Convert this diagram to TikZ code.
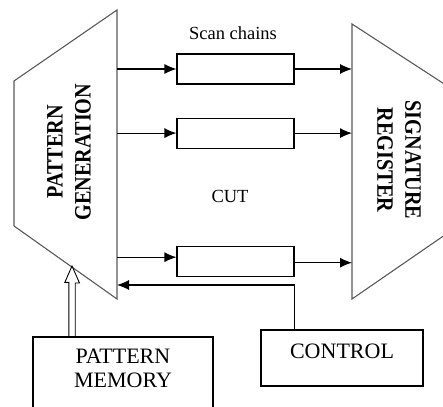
\documentclass[tikz,border=0pt]{standalone}
\usepackage{fontspec}
\setmainfont{Liberation Serif}
\usetikzlibrary{arrows.meta, positioning}
\tikzstyle{chain} = [rectangle, draw=black, line width=1.1pt, minimum width=117pt, minimum height=30pt, inner sep=0pt]
\tikzstyle{block} = [rectangle, draw=black, line width=1.1pt, inner sep=0pt, font=\fontsize{22}{24}\selectfont]
\tikzstyle{trap} = [draw=black!65, line width=1.1pt]
\tikzstyle{caps} = [font=\fontsize{23.5}{28}\selectfont\bfseries, align=center, inner sep=0pt]
\tikzstyle{txt} = [font=\fontsize{18.5}{22}\selectfont]
\tikzstyle{arrow} = [line width=1.1pt, -{Latex[length=12pt, width=10pt]}]

\begin{document}
\begin{tikzpicture}[x=1pt, y=1pt]

\useasboundingbox (0,0) rectangle (443,406);
\clip (0,0) rectangle (443,406);

% pattern generation and signature register
\draw [trap] (14,325) -- (117,396) -- (117,107) -- (14,180) -- cycle;
\node (pg) [caps, rotate=90, xscale=0.86] at (69,254) {PATTERN\\GENERATION};
\draw [trap] (352,382) -- (455,315) -- (455,178) -- (352,107) -- cycle;
\node (sr) [caps, rotate=-90, xscale=0.86] at (399,246) {SIGNATURE\\REGISTER};
\coordinate (pgR) at (117,0);
\coordinate (srL) at (352,0);

% scan chains
\node (c1) [chain] at (235.5,337) {};
\node (c2) [chain, below=33pt of c1] {};
\node (c3) [chain, below=97pt of c2] {};
\node (sc) [txt] at (233,373) {Scan chains};
\node (cut) [txt] at (230,210) {CUT};
\coordinate (c3in) at ([yshift=4pt]c3.west);
\coordinate (c3out) at ([yshift=-1.5pt]c3.east);

\draw [arrow] (pgR |- c1) -- (c1);
\draw [arrow] (pgR |- c2) -- (c2);
\draw [arrow] (pgR |- c3in) -- (c3in);
\draw [arrow] (c1) -- (srL |- c1);
\draw [arrow] (c2) -- (srL |- c2);
\draw [arrow] (c3out) -- (srL |- c3out);

% control and memory
\node (ctrl) [block, minimum width=162pt, minimum height=56pt, text height=15pt, text depth=15pt] at (342,48) {CONTROL};
\node (pm) [block, minimum width=180pt, minimum height=89pt] at (123,24.5) {};
\node (pmtxt) [block, draw=none, align=center] at (123,38) {PATTERN\\MEMORY};

\coordinate (fb) at (117,121);
\draw [arrow] (ctrl.north -| c3.east) |- (fb);

\coordinate (pgin) at (72,140);
\draw [line width=0.9pt] (pm.north -| pgin) ++(-3.2,0) -- ++(0,54) -- ++(-4,0) -- (pgin) -- ++(7.5,-17) -- ++(-4.3,0) -- ++(0,-54);

\end{tikzpicture}
\end{document}
